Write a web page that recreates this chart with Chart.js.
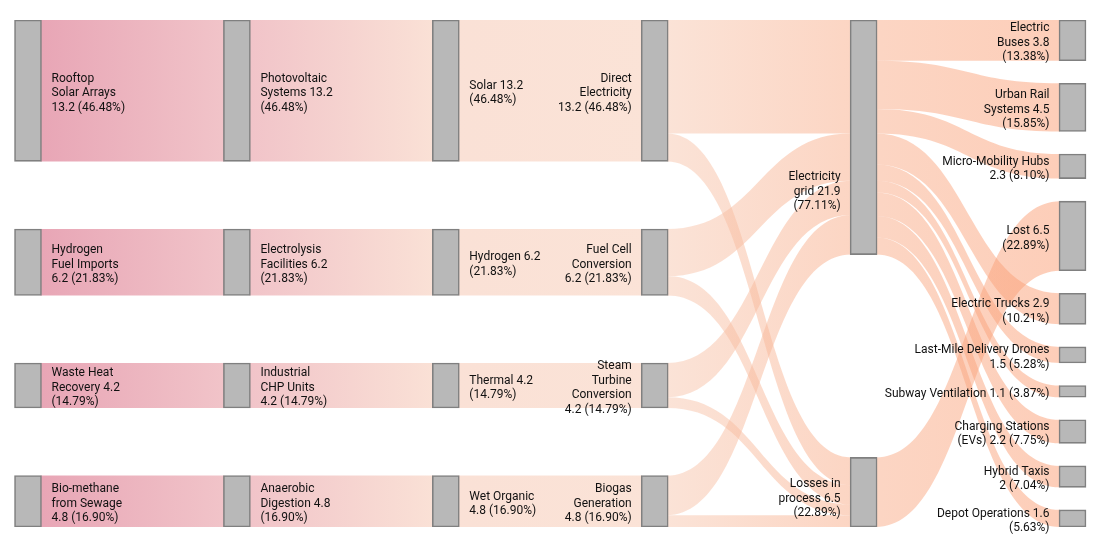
<!DOCTYPE html>
<html><head><meta charset="utf-8">
<script src="https://cdn.jsdelivr.net/npm/chart.js@4.4.1/dist/chart.umd.min.js"></script>
<style>html,body{margin:0;padding:0;background:#fff;}#wrap{width:1110px;height:548px;}</style>
</head><body><div id="wrap"><canvas id="c" width="1110" height="548"></canvas></div>
<script>
// ---- data ----
const nodeNames = [
  "Rooftop Solar Arrays","Hydrogen Fuel Imports","Waste Heat Recovery","Bio-methane from Sewage",
  "Photovoltaic Systems","Electrolysis Facilities","Industrial CHP Units","Anaerobic Digestion",
  "Solar","Hydrogen","Thermal","Wet Organic",
  "Direct Electricity","Fuel Cell Conversion","Steam Turbine Conversion","Biogas Generation",
  "Electricity grid","Losses in process",
  "Electric Buses","Urban Rail Systems","Micro-Mobility Hubs","Lost","Electric Trucks",
  "Last-Mile Delivery Drones","Subway Ventilation","Charging Stations (EVs)","Hybrid Taxis","Depot Operations"
];
const nodeColumns = [0,0,0,0, 1,1,1,1, 2,2,2,2, 3,3,3,3, 4,4, 5,5,5,5,5,5,5,5,5,5];
const nodeLabels = [
  "Rooftop\nSolar Arrays\n13.2 (46.48%)","Hydrogen\nFuel Imports\n6.2 (21.83%)","Waste Heat\nRecovery 4.2\n(14.79%)","Bio-methane\nfrom Sewage\n4.8 (16.90%)",
  "Photovoltaic\nSystems 13.2\n(46.48%)","Electrolysis\nFacilities 6.2\n(21.83%)","Industrial\nCHP Units\n4.2 (14.79%)","Anaerobic\nDigestion 4.8\n(16.90%)",
  "Solar 13.2\n(46.48%)","Hydrogen 6.2\n(21.83%)","Thermal 4.2\n(14.79%)","Wet Organic\n4.8 (16.90%)",
  "Direct\nElectricity\n13.2 (46.48%)","Fuel Cell\nConversion\n6.2 (21.83%)","Steam\nTurbine\nConversion\n4.2 (14.79%)","Biogas\nGeneration\n4.8 (16.90%)",
  "Electricity\ngrid 21.9\n(77.11%)","Losses in\nprocess 6.5\n(22.89%)",
  "Electric\nBuses 3.8\n(13.38%)","Urban Rail\nSystems 4.5\n(15.85%)","Micro-Mobility Hubs\n2.3 (8.10%)","Lost 6.5\n(22.89%)","Electric Trucks 2.9\n(10.21%)",
  "Last-Mile Delivery Drones\n1.5 (5.28%)","Subway Ventilation 1.1 (3.87%)","Charging Stations\n(EVs) 2.2 (7.75%)","Hybrid Taxis\n2 (7.04%)","Depot Operations 1.6\n(5.63%)"
];
const linkFrom = [
  "Rooftop Solar Arrays","Hydrogen Fuel Imports","Waste Heat Recovery","Bio-methane from Sewage",
  "Photovoltaic Systems","Electrolysis Facilities","Industrial CHP Units","Anaerobic Digestion",
  "Solar","Hydrogen","Thermal","Wet Organic",
  "Direct Electricity","Direct Electricity","Fuel Cell Conversion","Fuel Cell Conversion",
  "Steam Turbine Conversion","Steam Turbine Conversion","Biogas Generation","Biogas Generation",
  "Electricity grid","Electricity grid","Electricity grid","Electricity grid","Electricity grid",
  "Electricity grid","Electricity grid","Electricity grid","Electricity grid","Losses in process"
];
const linkTo = [
  "Photovoltaic Systems","Electrolysis Facilities","Industrial CHP Units","Anaerobic Digestion",
  "Solar","Hydrogen","Thermal","Wet Organic",
  "Direct Electricity","Fuel Cell Conversion","Steam Turbine Conversion","Biogas Generation",
  "Electricity grid","Losses in process","Electricity grid","Losses in process",
  "Electricity grid","Losses in process","Electricity grid","Losses in process",
  "Electric Buses","Urban Rail Systems","Micro-Mobility Hubs","Electric Trucks","Last-Mile Delivery Drones",
  "Subway Ventilation","Charging Stations (EVs)","Hybrid Taxis","Depot Operations","Lost"
];
const linkValues = [
  13.2,6.2,4.2,4.8,
  13.2,6.2,4.2,4.8,
  13.2,6.2,4.2,4.8,
  10.6,2.6,4.4,1.8,
  3.2,1.0,3.7,1.1,
  3.8,4.5,2.3,2.9,1.5,
  1.1,2.2,2,1.6,6.5
];

// ---- style ----
const columnColors = ['rgba(209,77,109,0.5)','rgba(227,137,147,0.5)','rgba(245,195,173,0.5)',
                      'rgba(247,199,175,0.5)','rgba(249,172,136,0.5)','rgba(251,157,115,0.5)'];
const FILL = 0.6;          // share of the height taken by nodes
const NODE_W = 27;
const labelShift = {"Electricity grid": 52, "Losses in process": 4};
const FONT = '12px Roboto, "Liberation Sans", sans-serif';
const LINE_H = 14.5;
const TEXT_DY = 2.5;

// ---- layout (data units) ----
const idx = {}; nodeNames.forEach((n,i)=>idx[n]=i);
const nIn = nodeNames.map(()=>0), nOut = nodeNames.map(()=>0);
linkValues.forEach((v,i)=>{ nOut[idx[linkFrom[i]]]+=v; nIn[idx[linkTo[i]]]+=v; });
const nodeSize = nodeNames.map((_,i)=>Math.max(nIn[i],nOut[i]));
const nCols = Math.max(...nodeColumns)+1;
const colTotals = [];
for(let c=0;c<nCols;c++) colTotals.push(nodeSize.reduce((s,v,i)=>s+(nodeColumns[i]===c?v:0),0));
const H = Math.max(...colTotals)/FILL;
const nodeY = new Array(nodeNames.length);
for(let c=0;c<nCols;c++){
  const members = nodeNames.map((_,i)=>i).filter(i=>nodeColumns[i]===c);
  const gap = members.length>1 ? (H-colTotals[c])/(members.length-1) : 0;
  let y=0;
  members.forEach(i=>{ nodeY[i]=y; y+=nodeSize[i]+gap; });
}
// link offsets
const links = linkValues.map((v,i)=>({s:idx[linkFrom[i]], t:idx[linkTo[i]], v}));
const outOff = nodeY.slice(), inOff = nodeY.slice();
nodeNames.forEach((_,n)=>{
  links.filter(l=>l.s===n).sort((a,b)=>nodeY[a.t]-nodeY[b.t]).forEach(l=>{ l.sy=outOff[n]; outOff[n]+=l.v; });
  links.filter(l=>l.t===n).sort((a,b)=>nodeY[a.s]-nodeY[b.s]).forEach(l=>{ l.ty=inOff[n]; inOff[n]+=l.v; });
});

// x scale range so columns spread across the canvas
const X_MIN = -0.13404, X_MAX = 5.1795;

const sankeyPlugin = {
  id:'sankeyLinks',
  beforeDatasetsDraw(chart){
    const {ctx, scales:{x,y}} = chart;
    const meta = chart.getDatasetMeta(0);
    ctx.save();
    links.forEach(l=>{
      const es = meta.data[l.s], et = meta.data[l.t];
      const x0 = es.x + es.width/2 - 1, x1 = et.x - et.width/2 + 1;
      const ys0 = y.getPixelForValue(l.sy), ys1 = y.getPixelForValue(l.sy+l.v);
      const yt0 = y.getPixelForValue(l.ty), yt1 = y.getPixelForValue(l.ty+l.v);
      const mx = (x0+x1)/2;
      const g = ctx.createLinearGradient(x0,0,x1,0);
      g.addColorStop(0, columnColors[nodeColumns[l.s]]);
      g.addColorStop(1, columnColors[nodeColumns[l.t]]);
      ctx.fillStyle = g;
      ctx.beginPath();
      ctx.moveTo(x0, ys0);
      ctx.bezierCurveTo(mx, ys0, mx, yt0, x1, yt0);
      ctx.lineTo(x1, yt1);
      ctx.bezierCurveTo(mx, yt1, mx, ys1, x0, ys1);
      ctx.closePath();
      ctx.fill();
    });
    ctx.restore();
  },
  afterDatasetsDraw(chart){
    const {ctx, scales:{y}} = chart;
    const meta = chart.getDatasetMeta(0);
    ctx.save();
    ctx.font = FONT;
    ctx.fillStyle = '#111111';
    ctx.textBaseline = 'middle';
    nodeNames.forEach((name,i)=>{
      const el = meta.data[i];
      const lines = nodeLabels[i].split('\n');
      const cy = (y.getPixelForValue(nodeY[i]) + y.getPixelForValue(nodeY[i]+nodeSize[i]))/2 + (labelShift[name]||0) + TEXT_DY;
      let tx;
      if(nodeColumns[i] <= 2){ ctx.textAlign='left'; tx = el.x + el.width/2 + 10; }
      else { ctx.textAlign='right'; tx = el.x - el.width/2 - 9.5; }
      const top = cy - (lines.length-1)*LINE_H/2;
      lines.forEach((ln,k)=>ctx.fillText(ln, tx, top + k*LINE_H));
    });
    ctx.restore();
  }
};

new Chart(document.getElementById('c'), {
  type:'bar',
  data:{
    datasets:[{
      label:'nodes',
      data: nodeNames.map((n,i)=>({x:nodeColumns[i], y:[nodeY[i], nodeY[i]+nodeSize[i]]})),
      backgroundColor:'#b8b8b8',
      borderColor:'#808080',
      borderWidth:1.6,
      borderSkipped:false,
      barThickness:NODE_W,
      grouped:false
    }]
  },
  options:{
    responsive:false,
    animation:false,
    devicePixelRatio:1,
    layout:{padding:{top:20,bottom:21,left:0,right:0}},
    scales:{
      x:{type:'linear', min:X_MIN, max:X_MAX, display:false, offset:false},
      y:{type:'linear', min:0, max:H, reverse:true, display:false}
    },
    plugins:{legend:{display:false}, tooltip:{enabled:false}}
  },
  plugins:[sankeyPlugin]
});
</script>
</body></html>
